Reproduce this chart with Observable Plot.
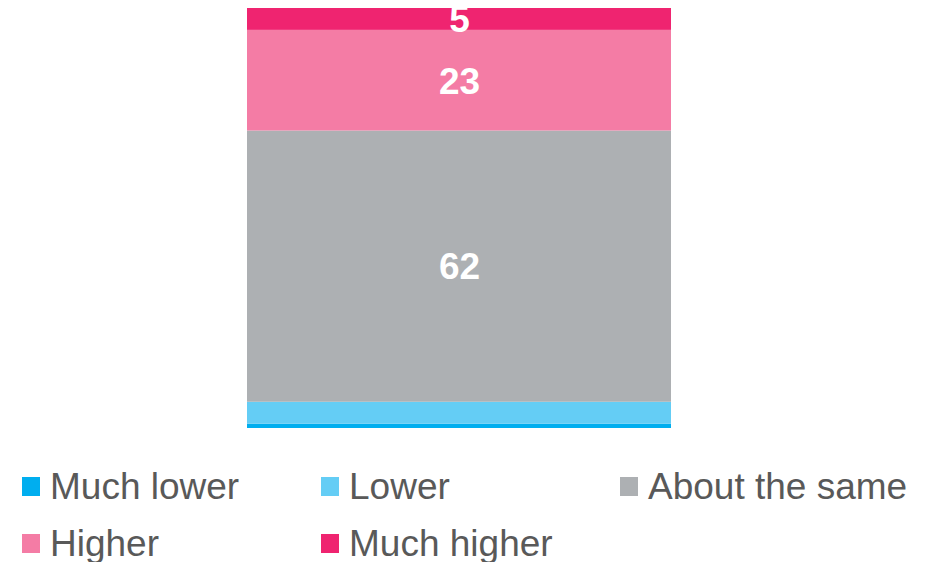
<!DOCTYPE html>
<html>
<head>
<meta charset="utf-8">
<script src="https://cdn.jsdelivr.net/npm/d3@7"></script>
<script src="https://cdn.jsdelivr.net/npm/@observablehq/plot@0.6"></script>
<style>
  html, body { margin: 0; padding: 0; background: #fff; }
  body { width: 925px; height: 562px; overflow: hidden; font-family: "Liberation Sans", Arial, sans-serif; }
  #legend { display: flex; flex-wrap: wrap; padding-left: 22px; margin-top: 23px; width: 925px; box-sizing: border-box; }
  .item { width: 299px; height: 57px; display: flex; align-items: center; font-size: 37px; color: #595959; white-space: nowrap; }
  .sw { width: 18px; height: 19px; margin-right: 10px; flex: none; }
</style>
</head>
<body>
<div id="chart"></div>
<div id="legend"></div>
<script>
const categories = ["Much lower", "Lower", "About the same", "Higher", "Much higher"];
const values = [1, 5, 62, 23, 5];
const colors = ["#00AEEF", "#64CDF5", "#ADB0B3", "#F47CA5", "#EF2470"];
const showLabel = [false, false, true, true, true];
const group = "All";

const data = categories.map((c, i) => ({group, category: c, value: values[i], show: showLabel[i]}));
const total = d3.sum(values);

const chart = Plot.plot({
  width: 925,
  height: 435,
  marginTop: 8,
  marginBottom: 7,
  marginLeft: 247,
  marginRight: 254,
  x: {domain: [group], padding: 0, axis: null},
  y: {domain: [0, total], axis: null},
  color: {domain: categories, range: colors},
  style: {fontFamily: "'Liberation Sans', Arial, sans-serif", overflow: "visible"},
  marks: [
    Plot.barY(data, {x: "group", y: "value", fill: "category", order: null}),
    Plot.text(data, Plot.stackY({
      x: "group", y: "value", z: "category", order: null,
      text: d => d.show ? String(d.value) : "",
      fill: "white", fontSize: 37, fontWeight: "bold",
      fontFamily: "'Liberation Sans', Arial, sans-serif", dy: 1
    }))
  ]
});
document.getElementById("chart").appendChild(chart);

const legend = document.getElementById("legend");
categories.forEach((c, i) => {
  const item = document.createElement("div");
  item.className = "item";
  const sw = document.createElement("span");
  sw.className = "sw";
  sw.style.background = colors[i];
  const t = document.createElement("span");
  t.textContent = c;
  item.appendChild(sw);
  item.appendChild(t);
  legend.appendChild(item);
});
</script>
</body>
</html>
